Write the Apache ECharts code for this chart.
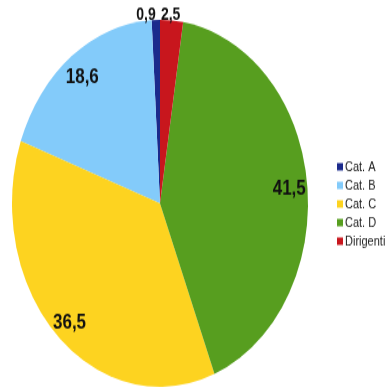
<!DOCTYPE html>
<html>
<head>
<meta charset="utf-8">
<script src="https://cdn.jsdelivr.net/npm/echarts@6/dist/echarts.min.js"></script>
<style>
html,body{margin:0;padding:0;background:#fff;width:390px;height:392px;}
#wrap{width:390px;height:392px;position:relative;}
#chart{position:absolute;left:0;top:0;width:390px;height:316px;transform:scaleY(1.24);transform-origin:0 0;}
</style>
</head>
<body>
<div id="wrap"><div id="chart"></div></div>
<script>
var categories = ['Cat. A', 'Cat. B', 'Cat. C', 'Cat. D', 'Dirigenti'];
var values = [0.9, 18.6, 36.5, 41.5, 2.5];
var colors = ['#1b2a8c', '#83cbfa', '#fdd320', '#579e1f', '#c8161d'];

function fmt(p) { return String(p.value).replace('.', ','); }

var mainData = categories.map(function (n, i) {
  var small = values[i] < 5;
  // small slices: labels sit above the pie, tucked toward the vertical axis
  var lbl = { show: small };
  if (small) { lbl.distanceToLabelLine = (i === categories.length - 1) ? -11 : 0; }
  return { name: n, value: values[i], itemStyle: { color: colors[i] }, label: lbl };
});
var labelData = categories.map(function (n, i) {
  return { name: n, value: values[i], label: { show: values[i] >= 5 } };
});

var chart = echarts.init(document.getElementById('chart'), null, { renderer: 'canvas' });
chart.setOption({
  animation: false,
  textStyle: { fontFamily: 'Liberation Sans' },
  legend: {
    orient: 'vertical',
    left: 337,
    top: 129,
    padding: 0,
    itemWidth: 6,
    itemHeight: 6,
    itemGap: 4,
    icon: 'rect',
    textStyle: { fontSize: 11, color: '#222', fontFamily: 'Liberation Sans', padding: [0, 0, 0, -3] },
    data: categories
  },
  series: [
    {
      type: 'pie',
      center: [160, 164],
      radius: [0, 148],
      startAngle: 90,
      clockwise: false,
      avoidLabelOverlap: false,
      itemStyle: { borderWidth: 0 },
      emphasis: { disabled: true },
      label: {
        position: 'outside',
        formatter: fmt,
        fontSize: 14,
        fontWeight: 'bold',
        color: '#111',
        fontFamily: 'Liberation Sans'
      },
      labelLine: { show: false, length: 4, length2: 0 },
      data: mainData
    },
    {
      type: 'pie',
      center: [160, 164],
      radius: [106, 148],
      startAngle: 90,
      clockwise: false,
      silent: true,
      itemStyle: { color: 'rgba(0,0,0,0)' },
      emphasis: { disabled: true },
      label: {
        position: 'inside',
        formatter: fmt,
        offset: [0, 3],
        fontSize: 17,
        fontWeight: 'bold',
        color: '#111',
        fontFamily: 'Liberation Sans'
      },
      labelLine: { show: false },
      data: labelData
    }
  ]
});
</script>
</body>
</html>
